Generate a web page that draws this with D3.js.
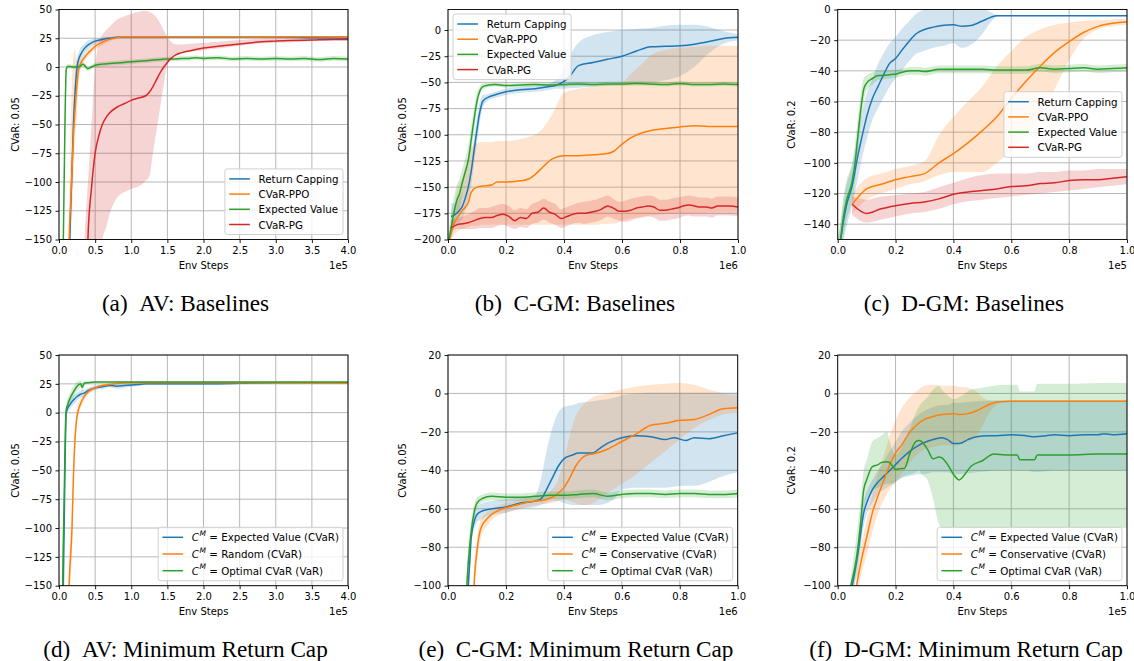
<!DOCTYPE html>
<html><head><meta charset="utf-8">
<script src="https://cdn.jsdelivr.net/npm/d3@7"></script>
<style>
body{margin:0;background:#fff;}
svg{display:block;}
</style></head><body>
<svg id="fig" width="1134" height="661"></svg>
<script>
// ---------- tick values ----------
const ticksX4 = [0,0.5,1,1.5,2,2.5,3,3.5,4];
const ticksX1 = [0,0.2,0.4,0.6,0.8,1];
const ticksYav = [-150,-125,-100,-75,-50,-25,0,25,50];
const ticksYcgm = [-200,-175,-150,-125,-100,-75,-50,-25,0];
const ticksYdgm = [-140,-120,-100,-80,-60,-40,-20,0];
const ticksY20 = [-100,-80,-60,-40,-20,0,20];

// ---------- legend labels ----------
const labelsBase = ['Return Capping','CVaR-PPO','Expected Value','CVaR-PG'];
const labelsAV = ['Expected Value (CVaR)','Random (CVaR)','Optimal CVaR (VaR)'];
const labelsGM = ['Expected Value (CVaR)','Conservative (CVaR)','Optimal CVaR (VaR)'];

// ---------- (a) AV baselines, x in 1e5 ----------
const aRC_x = [0.13,0.15,0.18,0.2,0.22,0.25,0.28,0.3,0.35,0.4,0.45,0.5,0.6,0.7,0.8,0.9,1.0,1.5,2.0,2.5,3.0,3.5,4.0];
const aRC_y = [-220,-150,-90,-50,-25,0,8,11,16,19,21,22.5,24,25,25.8,26,26,26,26,26,26,25.5,25];
const aRC_lo = [-240,-170,-110,-68,-40,-10,0,4,11,15,18,20,22.5,24,25.3,25.6,25.6,25.6,25.6,25.6,25.6,25,24.5];
const aRC_hi = [-200,-130,-70,-32,-10,8,14,17,20,23,24,25,25.5,26,26.3,26.4,26.4,26.4,26.4,26.4,26.4,26,25.5];
const aPPO_x = [0.12,0.14,0.16,0.18,0.2,0.22,0.25,0.27,0.3,0.35,0.4,0.45,0.5,0.6,0.7,0.8,0.9,1.0,2.0,3.0,4.0];
const aPPO_y = [-220,-150,-120,-90,-60,-40,-15,-3,3,8,12,15,18,21.5,24,25.5,26.3,26.3,26.3,26.3,26.3];
const aPPO_lo = [-240,-170,-160,-130,-100,-70,-40,-15,-2,5,9,12,15,19,22,24.5,25.9,25.9,25.9,25.9,25.9];
const aPPO_hi = [-200,-130,-60,-10,10,15,5,3,6,11,15,18,21,24,26,26.8,26.7,26.7,26.7,26.7,26.7];
const aEV_x = [0.0,0.04,0.06,0.08,0.1,0.12,0.15,0.2,0.25,0.3,0.33,0.36,0.4,0.45,0.5,0.6,0.7,0.8,0.9,1.0,1.1,1.2,1.3,1.4,1.5,1.6,1.7,1.8,1.9,2.0,2.2,2.4,2.6,2.8,3.0,3.2,3.4,3.6,3.8,4.0];
const aEV_y = [-400,-300,-150,-60,-2,0.5,0.5,0,0,1,2.5,1,-1.5,0,1.5,2.5,3,3.5,4,4.5,5,5.5,6,6.5,7,7,7.5,7.5,8,7.5,8,7,7.5,7,7.5,7,7.5,6.5,7.5,7];
const aEV_lo = [-420,-320,-170,-75,-6,-1.5,-1.5,-2,-2,-1,0.5,-1,-3.5,-2,-0.5,0.5,1,1.5,2,2.5,3,3.5,4,4.5,5,5,5.5,5.5,6,5.5,6,5,5.5,5,5.5,5,5.5,4.5,5.5,5];
const aEV_hi = [-380,-280,-130,-45,2,2.5,2.5,2,2,3,4.5,3,0.5,2,3.5,4.5,5,5.5,6,6.5,7,7.5,8,8.5,9,9,9.5,9.5,10,9.5,10,9,9.5,9,9.5,9,9.5,8.5,9.5,9];
const aPG_x = [0.35,0.4,0.45,0.5,0.55,0.6,0.65,0.7,0.8,0.9,1.0,1.1,1.2,1.25,1.3,1.35,1.4,1.45,1.5,1.55,1.6,1.7,1.8,2.0,2.2,2.5,2.8,3.0,3.2,3.5,3.8,4.0];
const aPG_y = [-300,-150,-105,-75,-60,-50,-44,-40,-35,-32,-29,-27,-25,-22,-17,-11,-5,0,4,7.5,10,12.5,14,16.5,18,20,22,22.5,23,23.5,24,24];
const aPG_lo = [-400,-400,-300,-250,-200,-150,-140,-128,-114,-109,-106,-104,-99,-95,-75,-55,-35,-15,3,6,9,12,13,14.5,16,18.5,20.5,21,21.5,22.5,23,23];
const aPG_hi = [-150,-100,-50,0,20,28,32,35,41,44,46,48,49,48,46,43,38,32,26,22,20,19.5,20,21,22,23.5,24.5,25,25,25,25,25];

// ---------- (b) C-GM baselines, x in 1e6 ----------
const bRC_x = [0.01,0.02,0.03,0.04,0.05,0.06,0.07,0.08,0.09,0.1,0.11,0.12,0.14,0.16,0.2,0.25,0.3,0.35,0.37,0.4,0.42,0.45,0.5,0.55,0.6,0.65,0.7,0.75,0.8,0.85,0.9,0.95,1.0];
const bRC_y = [-178,-177,-175,-172,-168,-160,-150,-135,-115,-95,-78,-68,-64,-62,-59,-57,-56,-54,-53,-49,-44,-34,-31,-28,-25,-20,-16,-15.5,-15,-13.5,-11,-8,-7];
const bRC_lo = [-190,-188,-185,-183,-180,-172,-162,-148,-128,-108,-88,-74,-67,-65,-62,-60,-59,-57,-56,-56,-55.5,-55,-54,-53,-52,-51,-50,-48,-44,-35,-22,-13,-10];
const bRC_hi = [-165,-166,-165,-160,-155,-148,-138,-122,-102,-82,-68,-62,-61,-59,-56,-54,-53,-51,-48,-38,-25,-12,-5,-2,0,1,2,4,5,5,3,-1,-4];
const bPPO_x = [0.0,0.01,0.02,0.03,0.05,0.07,0.08,0.1,0.12,0.15,0.17,0.2,0.25,0.28,0.3,0.33,0.36,0.4,0.45,0.5,0.55,0.57,0.6,0.63,0.67,0.7,0.75,0.8,0.85,0.9,0.95,1.0];
const bPPO_y = [-205,-195,-185,-180,-172,-165,-155,-150,-149,-148,-145,-145,-144,-142,-138,-130,-123,-120,-120,-119,-118,-116,-109,-103,-98,-96,-94,-92.5,-91.5,-92,-92,-92];
const bPPO_lo = [-210,-200,-196,-193,-190,-188,-187,-187,-186,-186,-186,-186,-186,-186,-186,-186,-186,-186,-186,-186,-185,-185,-182,-180,-178,-177,-176,-175,-175,-174,-174,-173];
const bPPO_hi = [-200,-185,-170,-155,-140,-122,-112,-108,-107,-107,-106,-106,-104,-102,-100,-93,-80,-60,-56,-54,-52,-51,-50,-42,-32,-24,-19,-17,-16,-15,-15,-15];
const bEV_x = [0.0,0.01,0.02,0.03,0.04,0.05,0.06,0.07,0.08,0.09,0.1,0.11,0.12,0.14,0.16,0.18,0.2,0.25,0.3,0.35,0.4,0.45,0.5,0.55,0.6,0.65,0.7,0.75,0.8,0.85,0.9,0.95,1.0];
const bEV_y = [-205,-190,-175,-163,-156,-145,-135,-124,-105,-85,-68,-58,-54,-52.5,-52,-52.5,-53,-52.5,-52,-52.5,-52,-51.5,-52,-51.5,-51.5,-51,-51.5,-52,-51,-52,-52,-51.5,-52];
const bEV_lo = [-215,-202,-190,-178,-170,-158,-148,-138,-118,-96,-76,-62,-57,-54.5,-54,-54.5,-55,-54.5,-54,-54.5,-54,-53.5,-54,-53.5,-53.5,-53,-53.5,-54,-53,-54,-54,-53.5,-54];
const bEV_hi = [-195,-178,-160,-148,-142,-132,-122,-110,-92,-74,-60,-54,-51,-50.5,-50,-50.5,-51,-50.5,-50,-50.5,-50,-49.5,-50,-49.5,-49.5,-49,-49.5,-50,-49,-50,-50,-49.5,-50];
const bPG_x = [0.01,0.03,0.05,0.07,0.09,0.11,0.13,0.15,0.17,0.19,0.21,0.23,0.25,0.27,0.29,0.31,0.33,0.35,0.37,0.39,0.41,0.43,0.45,0.47,0.49,0.51,0.53,0.55,0.57,0.59,0.61,0.63,0.65,0.67,0.69,0.71,0.73,0.75,0.77,0.79,0.81,0.83,0.85,0.87,0.89,0.91,0.93,0.95,0.97,1.0];
const bPG_y = [-189,-186,-185,-184,-182,-180,-179,-179,-177,-176,-178,-182,-179,-180,-175,-174,-170,-174,-176,-180,-178,-176,-175,-175,-174,-173,-171,-168,-170,-173,-173,-172,-170,-169,-168,-169,-172,-172,-171,-170,-168,-167,-168,-169,-169,-170,-168,-168,-168,-169];
const bPG_lo = [-193,-190,-190,-190,-190,-189,-189,-189,-187,-186,-188,-190,-188,-189,-185,-184,-181,-184,-186,-189,-187,-185,-184,-185,-184,-183,-181,-178,-180,-182,-183,-182,-180,-179,-178,-179,-182,-182,-181,-180,-178,-177,-178,-178,-178,-179,-177,-177,-177,-178];
const bPG_hi = [-182,-180,-178,-176,-173,-170,-170,-169,-167,-166,-168,-172,-170,-171,-166,-164,-161,-164,-166,-171,-169,-167,-165,-164,-163,-162,-160,-158,-161,-164,-163,-161,-160,-159,-158,-159,-162,-162,-161,-160,-159,-158,-159,-160,-160,-161,-159,-159,-159,-160];

// ---------- (c) D-GM baselines, x in 1e5 ----------
const cRC_x = [0.0,0.01,0.02,0.03,0.05,0.07,0.09,0.1,0.12,0.14,0.16,0.18,0.2,0.22,0.25,0.27,0.3,0.33,0.36,0.4,0.43,0.46,0.5,0.53,0.55,0.6,0.7,0.8,0.9,1.0];
const cRC_y = [-160,-150,-138,-128,-115,-95,-78,-70,-58,-50,-42,-35,-32,-27,-20,-16,-13,-11.5,-10.5,-10,-11,-10.5,-7.5,-5,-4,-4,-4,-4,-4,-4];
const cRC_lo = [-170,-160,-150,-142,-128,-110,-92,-85,-72,-64,-57,-50,-45,-40,-33,-29,-27,-25,-24,-22,-25,-23,-16,-8,-4.5,-4.3,-4.3,-4.3,-4.3,-4.3];
const cRC_hi = [-150,-140,-125,-115,-102,-80,-62,-55,-45,-35,-28,-22,-18,-13,-7,-3,0,2,3,3,3,3,1,-2,-3.5,-3.7,-3.7,-3.7,-3.7,-3.7];
const cPPO_x = [0.05,0.1,0.15,0.2,0.25,0.3,0.35,0.4,0.45,0.5,0.55,0.6,0.65,0.7,0.75,0.8,0.85,0.9,0.95,1.0];
const cPPO_y = [-127,-117,-114,-111,-109,-107,-100,-94,-87,-79,-70,-58,-47,-37,-28,-21,-15,-11,-9,-8];
const cPPO_lo = [-133,-124,-120,-117,-114,-112,-108,-106,-106,-106,-100,-92,-82,-70,-52,-33,-19,-13,-11,-10];
const cPPO_hi = [-120,-110,-107,-104,-102,-99,-82,-70,-60,-50,-37,-27,-18,-13,-10,-8.5,-7.5,-7,-6.5,-6];
const cEV_x = [0.0,0.01,0.02,0.03,0.05,0.06,0.07,0.08,0.09,0.1,0.12,0.14,0.16,0.2,0.25,0.28,0.3,0.35,0.4,0.45,0.5,0.55,0.6,0.65,0.7,0.75,0.8,0.85,0.9,0.95,1.0];
const cEV_y = [-165,-150,-135,-125,-112,-100,-82,-65,-52,-48,-45,-43,-43,-42,-40,-40,-40.5,-39,-39,-39,-39,-39.5,-39.5,-39.5,-38,-39,-38.5,-38,-39,-38.5,-38];
const cEV_lo = [-175,-162,-148,-138,-124,-112,-94,-75,-60,-53,-49,-46,-45.5,-44.5,-42.5,-42.5,-43,-41.5,-41.5,-41.5,-41.5,-42,-42,-42,-40.5,-41.5,-41,-40.5,-41.5,-41,-40.5];
const cEV_hi = [-150,-138,-122,-112,-100,-88,-70,-55,-45,-43,-41,-40,-40,-39.5,-37.5,-37.5,-38,-36.5,-36.5,-36.5,-36.5,-37,-37,-37,-35.5,-36.5,-36,-35.5,-36.5,-36,-35.5];
const cPG_x = [0.05,0.1,0.15,0.2,0.25,0.3,0.35,0.4,0.45,0.5,0.55,0.6,0.65,0.7,0.75,0.8,0.85,0.9,0.95,1.0];
const cPG_y = [-127,-133,-130,-128,-126.5,-125.5,-123.5,-120.5,-119,-118,-117,-115.5,-115,-113.5,-113,-111.5,-111,-111,-110,-109];
const cPG_lo = [-134,-139,-137,-135,-133,-132,-130,-127,-125,-124,-123,-122,-121,-120,-119,-118,-117,-116,-115,-114];
const cPG_hi = [-122,-124,-122,-121,-120,-119,-116,-113,-110,-108,-107,-107,-107,-106,-106,-105,-105,-104,-104,-104];

// ---------- (d) AV minimum return cap, x in 1e5 ----------
const dEV_x = [0.04,0.06,0.08,0.1,0.12,0.15,0.2,0.25,0.3,0.35,0.4,0.5,0.6,0.7,0.8,0.9,1.0,1.1,1.2,1.5,2.0,2.5,3.0,3.5,4.0];
const dEV_y = [-300,-150,-60,0,4,7,11,14,16,17,19,21.5,22.5,23.5,23,23.5,24,24.5,25,25,25,25.5,26,26,26];
const dEV_lo = [-320,-170,-70,-4,0,3,7,10.5,13,14,16.5,19.5,20.5,22,21,21.5,22.5,23.2,24,24,24,24.7,25.5,25.5,25.5];
const dEV_hi = [-280,-130,-50,4,8,11,15,17.5,19,20,21.5,23.5,24.5,25,25,25.5,25.5,25.8,26,26,26,26.3,26.5,26.5,26.5];
const dR_x = [0.12,0.14,0.16,0.18,0.2,0.22,0.25,0.3,0.35,0.4,0.5,0.6,0.7,0.8,0.9,1.0,1.5,2.0,3.0,4.0];
const dR_y = [-300,-150,-125,-100,-55,-25,-3,8,14,18,21.5,23.5,24.5,25.3,25.8,26,26,26,26,25.5];
const dR_lo = [-320,-170,-145,-120,-70,-35,-9,4,11,15.5,20,22.5,23.5,24.6,25.3,25.5,25.5,25.5,25.5,25];
const dR_hi = [-280,-130,-105,-80,-40,-15,3,12,17,20.5,23,24.5,25.5,26,26.3,26.5,26.5,26.5,26.5,26];
const dO_x = [0.03,0.05,0.07,0.09,0.1,0.12,0.15,0.2,0.25,0.3,0.32,0.35,0.4,0.5,0.6,0.8,1.0,2.0,3.0,4.0];
const dO_y = [-400,-160,-80,-10,2,7,12,18,23,25,22,25.5,26,26.5,26.5,26.5,26.5,26.5,26.5,26.5];
const dO_lo = [-420,-180,-95,-18,-3,2,7,13,19,22,18,23.5,25,26,26,26,26,26,26,26];
const dO_hi = [-380,-140,-65,-2,7,12,17,23,27,28,26,27.5,27,27,27,27,27,27,27,27];

// ---------- (e) C-GM minimum return cap, x in 1e6 ----------
const eEV_x = [0.06,0.07,0.075,0.08,0.09,0.1,0.12,0.15,0.2,0.25,0.3,0.32,0.34,0.36,0.38,0.4,0.43,0.45,0.5,0.52,0.55,0.58,0.6,0.65,0.7,0.75,0.78,0.82,0.85,0.9,0.95,1.0];
const eEV_y = [-120,-100,-88,-75,-67,-63,-61,-60,-59,-57,-56,-55,-50,-44,-38,-34,-32,-31,-31,-29,-26,-24,-23,-22,-22.5,-24,-23,-24.5,-23,-23.5,-22,-20.5];
const eEV_lo = [-130,-106,-94,-80,-71,-67,-65,-63,-62,-60,-59,-58,-57,-56,-56,-57,-58,-58,-58,-58,-57,-54,-50,-49,-49,-49,-48.5,-48,-48,-46,-43,-41];
const eEV_hi = [-112,-94,-82,-70,-63,-59,-57,-56,-55,-54,-53,-45,-30,-18,-10,-7,-6,-5,-4,-3.5,-3,-2,-1,0,0.5,0.5,0.5,0.5,0.5,0.5,0.5,0.5];
const eC_x = [0.085,0.09,0.1,0.11,0.12,0.13,0.15,0.18,0.2,0.25,0.3,0.33,0.36,0.38,0.4,0.42,0.44,0.46,0.48,0.5,0.55,0.6,0.65,0.7,0.75,0.8,0.85,0.9,0.95,1.0];
const eC_y = [-120,-100,-82,-72,-68,-66,-63,-60.5,-59.5,-57.5,-56,-55.5,-54,-52,-49,-44,-38,-34,-32,-31.5,-29,-25,-21,-16.5,-15.5,-14,-13.5,-11,-8,-7.5];
const eC_lo = [-130,-108,-88,-78,-72,-70,-66,-63,-62,-60,-58,-57.5,-57,-56,-55,-56,-57,-58,-58,-57,-52,-47,-42,-36,-30,-24,-18,-14,-11,-10];
const eC_hi = [-110,-92,-76,-67,-64,-62.5,-60,-58,-57,-55,-54,-53,-50,-45,-35,-22,-12,-7,-4,-2,0,2,3.5,4.5,5,5.5,4.5,2,0,-1];
const eO_x = [0.06,0.065,0.07,0.08,0.09,0.1,0.12,0.15,0.2,0.25,0.3,0.35,0.4,0.45,0.5,0.55,0.6,0.65,0.7,0.75,0.8,0.85,0.9,0.95,1.0];
const eO_y = [-120,-100,-88,-72,-62,-57,-54.5,-53.5,-54,-54,-53.5,-53,-53,-52.5,-52,-53.5,-52.5,-52,-52,-52.5,-52,-52,-52.5,-52.5,-52];
const eO_lo = [-128,-106,-96,-78,-66,-60,-56.5,-55.5,-56,-56,-55.5,-55,-55,-54.5,-54,-55.5,-54.5,-54,-54,-54.5,-54,-54,-54.5,-54.5,-54];
const eO_hi = [-112,-94,-80,-66,-58,-54,-52.5,-51.5,-52,-52,-51.5,-51,-51,-50.5,-50,-51.5,-50.5,-50,-50,-50.5,-50,-50,-50.5,-50.5,-50];

// ---------- (f) D-GM minimum return cap, x in 1e5 ----------
const fEV_x = [0.05,0.06,0.07,0.08,0.09,0.1,0.12,0.14,0.16,0.18,0.2,0.22,0.25,0.28,0.3,0.33,0.36,0.38,0.4,0.42,0.45,0.48,0.52,0.55,0.6,0.65,0.68,0.72,0.75,0.8,0.85,0.9,0.92,0.95,1.0];
const fEV_y = [-100,-92,-83,-72,-62,-57,-50,-46,-43,-40,-37,-34,-30,-27,-25.5,-24,-23,-24,-26,-26,-24,-22.5,-22,-22,-21.5,-22,-22.5,-22,-21.5,-22,-21.5,-21.5,-21,-21.5,-21];
const fEV_lo = [-104,-97,-88,-79,-69,-63,-57,-52,-50,-48,-46,-44,-43,-42,-42,-41,-41,-41,-42,-42,-41.5,-41,-40.5,-40,-40,-40,-41,-40.5,-40,-40,-40,-40,-40,-40,-40];
const fEV_hi = [-95,-87,-77,-65,-56,-51,-45,-40,-35,-30,-25,-20,-15,-11,-9,-7,-6,-6,-5,-5,-4.5,-4,-3.8,-3.6,-3.5,-3.5,-3.5,-3.5,-3.5,-3.5,-3.5,-3.5,-3.5,-3.5,-3.5];
const fC_x = [0.065,0.08,0.1,0.12,0.14,0.16,0.18,0.2,0.22,0.25,0.28,0.3,0.33,0.36,0.4,0.42,0.45,0.48,0.5,0.52,0.55,0.6,0.7,0.8,0.9,1.0];
const fC_y = [-100,-88,-75,-62,-53,-45,-37,-31,-27,-20,-15.5,-13.5,-12,-11,-10.5,-11,-10.5,-9,-7.5,-6,-4.5,-4,-4,-4,-4,-4];
const fC_lo = [-105,-95,-84,-72,-62,-55,-50,-46,-42,-36,-31,-29,-28,-27,-27,-26.5,-25,-22,-17,-11,-6,-4.2,-4.2,-4.2,-4.2,-4.2];
const fC_hi = [-95,-80,-66,-52,-41,-32,-22,-14,-8,-2,2,4,4.5,4,4,3.5,3,1,-2,-3.5,-4,-3.8,-3.8,-3.8,-3.8,-3.8];
const fO_x = [0.045,0.06,0.07,0.08,0.09,0.1,0.12,0.14,0.15,0.17,0.18,0.19,0.2,0.22,0.23,0.25,0.27,0.28,0.29,0.31,0.33,0.35,0.36,0.38,0.4,0.42,0.44,0.46,0.5,0.54,0.58,0.62,0.63,0.68,0.69,0.75,0.8,0.9,1.0];
const fO_y = [-100,-90,-80,-66,-50,-45,-38,-37,-36,-35.5,-36,-38,-39.5,-39,-39,-31,-25,-24.5,-25,-29,-34,-33,-33.5,-37,-42,-45,-42,-38,-35,-31.5,-32,-32,-34.5,-34.5,-32,-32,-32,-31.5,-31.5];
const fO_lo = [-105,-98,-92,-78,-60,-55,-50,-49,-48,-47,-47,-47,-46,-44,-43,-42,-41,-40,-42,-45,-55,-68,-70,-70,-70,-70,-70,-70,-70,-70,-70,-70,-70,-70,-70,-70,-70,-70,-70];
const fO_hi = [-95,-80,-68,-55,-40,-35,-25,-23,-22,-20,-25,-30,-32,-28,-25,-18,-10,-7,-5,-2,2,4,2,-1,-3,-2,0,2,3,4,4.5,4.5,1,1,5,5,5,5.5,5.5];

// ---------- styling ----------
const COL = {blue:'#1f77b4', orange:'#ff7f0e', green:'#2ca02c', red:'#d62728'};
const S = (label,color,x,y,lo,hi,math)=>({label,color,x,y,lo,hi,math:!!math});

const panels = [
 {box:[59,9.5,348,239.5], xDomain:[0,4], xTicks:ticksX4, yDomain:[-150,50], yTicks:ticksYav,
  ylabel:'CVaR: 0.05', ylx:15, exp:'1e5', caption:'(a)\u2002AV: Baselines', capX:185.5, capY:311, legend:'lower right',
  series:[S(labelsBase[0],COL.blue,aRC_x,aRC_y,aRC_lo,aRC_hi),S(labelsBase[1],COL.orange,aPPO_x,aPPO_y,aPPO_lo,aPPO_hi),
          S(labelsBase[2],COL.green,aEV_x,aEV_y,aEV_lo,aEV_hi),S(labelsBase[3],COL.red,aPG_x,aPG_y,aPG_lo,aPG_hi)]},
 {box:[448,9.5,738,239.5], xDomain:[0,1], xTicks:ticksX1, yDomain:[-200,19.6], yTicks:ticksYcgm,
  ylabel:'CVaR: 0.05', ylx:402.7, exp:'1e6', caption:'(b)\u2002C-GM: Baselines', capX:575, capY:311, legend:'upper left',
  series:[S(labelsBase[0],COL.blue,bRC_x,bRC_y,bRC_lo,bRC_hi),S(labelsBase[1],COL.orange,bPPO_x,bPPO_y,bPPO_lo,bPPO_hi),
          S(labelsBase[2],COL.green,bEV_x,bEV_y,bEV_lo,bEV_hi),S(labelsBase[3],COL.red,bPG_x,bPG_y,bPG_lo,bPG_hi)]},
 {box:[837.7,9.5,1127,239.5], xDomain:[0,1], xTicks:ticksX1, yDomain:[-150,0], yTicks:ticksYdgm,
  ylabel:'CVaR: 0.2', ylx:791.7, exp:'1e5', caption:'(c)\u2002D-GM: Baselines', capX:964, capY:311, legend:'center right',
  series:[S(labelsBase[0],COL.blue,cRC_x,cRC_y,cRC_lo,cRC_hi),S(labelsBase[1],COL.orange,cPPO_x,cPPO_y,cPPO_lo,cPPO_hi),
          S(labelsBase[2],COL.green,cEV_x,cEV_y,cEV_lo,cEV_hi),S(labelsBase[3],COL.red,cPG_x,cPG_y,cPG_lo,cPG_hi)]},
 {box:[59,355,348,585.7], xDomain:[0,4], xTicks:ticksX4, yDomain:[-150,50], yTicks:ticksYav,
  ylabel:'CVaR: 0.05', ylx:15, exp:'1e5', caption:'(d)\u2002AV: Minimum Return Cap', capX:185.5, capY:657, legend:'lower right',
  series:[S(labelsAV[0],COL.blue,dEV_x,dEV_y,dEV_lo,dEV_hi,1),S(labelsAV[1],COL.orange,dR_x,dR_y,dR_lo,dR_hi,1),
          S(labelsAV[2],COL.green,dO_x,dO_y,dO_lo,dO_hi,1)]},
 {box:[448,355,737.7,585.7], xDomain:[0,1], xTicks:ticksX1, yDomain:[-100,20], yTicks:ticksY20,
  ylabel:'CVaR: 0.05', ylx:402.7, exp:'1e6', caption:'(e)\u2002C-GM: Minimum Return Cap', capX:576, capY:657, legend:'lower right',
  series:[S(labelsGM[0],COL.blue,eEV_x,eEV_y,eEV_lo,eEV_hi,1),S(labelsGM[1],COL.orange,eC_x,eC_y,eC_lo,eC_hi,1),
          S(labelsGM[2],COL.green,eO_x,eO_y,eO_lo,eO_hi,1)]},
 {box:[837.7,355,1127,585.7], xDomain:[0,1], xTicks:ticksX1, yDomain:[-100,20], yTicks:ticksY20,
  ylabel:'CVaR: 0.2', ylx:791.7, exp:'1e5', caption:'(f)\u2002D-GM: Minimum Return Cap', capX:966, capY:657, legend:'lower right',
  series:[S(labelsGM[0],COL.blue,fEV_x,fEV_y,fEV_lo,fEV_hi,1),S(labelsGM[1],COL.orange,fC_x,fC_y,fC_lo,fC_hi,1),
          S(labelsGM[2],COL.green,fO_x,fO_y,fO_lo,fO_hi,1)]}
];

const svg = d3.select('#fig');
const FONT = '"DejaVu Sans", sans-serif';
const fmtY = d => d < 0 ? '\u2212' + Math.abs(d) : String(d);

panels.forEach((p, i) => {
  const [L, T, R, B] = p.box;
  const x = d3.scaleLinear().domain(p.xDomain).range([L, R]);
  const y = d3.scaleLinear().domain(p.yDomain).range([B, T]);
  const g = svg.append('g');

  // grid
  g.append('g').selectAll('line').data(p.xTicks).join('line')
    .attr('x1', d => x(d)).attr('x2', d => x(d)).attr('y1', T).attr('y2', B)
    .attr('stroke', '#b0b0b0').attr('stroke-width', 0.9);
  g.append('g').selectAll('line').data(p.yTicks).join('line')
    .attr('y1', d => y(d)).attr('y2', d => y(d)).attr('x1', L).attr('x2', R)
    .attr('stroke', '#b0b0b0').attr('stroke-width', 0.9);

  // clip
  const cid = 'clip' + i;
  svg.append('clipPath').attr('id', cid).append('rect')
    .attr('x', L).attr('y', T).attr('width', R - L).attr('height', B - T);
  const plot = g.append('g').attr('clip-path', `url(#${cid})`);

  const area = d3.area().x(d => x(d.x)).y0(d => y(d.lo)).y1(d => y(d.hi)).curve(d3.curveMonotoneX);
  const line = d3.line().x(d => x(d.x)).y(d => y(d.y)).curve(d3.curveMonotoneX);
  p.series.forEach(s => {
    const pts = s.x.map((xv, k) => ({x: xv, y: s.y[k], lo: s.lo[k], hi: s.hi[k]}));
    plot.append('path').datum(pts).attr('d', area).attr('fill', s.color).attr('fill-opacity', 0.2);
  });
  p.series.forEach(s => {
    const pts = s.x.map((xv, k) => ({x: xv, y: s.y[k]}));
    plot.append('path').datum(pts).attr('d', line).attr('fill', 'none')
      .attr('stroke', s.color).attr('stroke-width', 1.5).attr('stroke-linejoin', 'round');
  });

  // axes
  const xa = g.append('g').attr('transform', `translate(0,${B})`)
    .call(d3.axisBottom(x).tickValues(p.xTicks).tickFormat(d3.format('.1f')).tickSize(3.5).tickPadding(3.5));
  const ya = g.append('g').attr('transform', `translate(${L},0)`)
    .call(d3.axisLeft(y).tickValues(p.yTicks).tickFormat(fmtY).tickSize(3.5).tickPadding(3.5));
  [xa, ya].forEach(a => {
    a.attr('font-family', FONT).attr('font-size', 10);
    a.select('.domain').remove();
    a.selectAll('.tick line').attr('stroke', '#000').attr('stroke-width', 0.9);
    a.selectAll('.tick text').attr('fill', '#000');
  });
  g.append('rect').attr('x', L).attr('y', T).attr('width', R - L).attr('height', B - T)
    .attr('fill', 'none').attr('stroke', '#000').attr('stroke-width', 0.9);

  // labels
  g.append('text').attr('x', (L + R) / 2).attr('y', B + 29.5).attr('text-anchor', 'middle')
    .attr('font-family', FONT).attr('font-size', 10).text('Env Steps');
  g.append('text').attr('x', R).attr('y', B + 29.5).attr('text-anchor', 'end')
    .attr('font-family', FONT).attr('font-size', 10).text(p.exp);
  g.append('text').attr('transform', `translate(${p.ylx},${(T + B) / 2}) rotate(-90)`)
    .attr('text-anchor', 'middle').attr('dominant-baseline', 'central')
    .attr('font-family', FONT).attr('font-size', 10).text(p.ylabel);
  g.append('text').attr('x', p.capX).attr('y', p.capY).attr('text-anchor', 'middle')
    .attr('font-family', '"Liberation Serif", serif').attr('font-size', 23.2).text(p.caption);

  // legend
  const math = p.series[0].math;
  const rowH = math ? 16.7 : 15.2;
  const lg = g.append('g');
  const box = lg.append('rect');
  const texts = [];
  p.series.forEach((s, k) => {
    const t = lg.append('text').attr('font-family', FONT).attr('font-size', 10.3)
      .attr('dominant-baseline', 'central');
    if (math) {
      t.append('tspan').attr('font-style', 'italic').text('C');
      t.append('tspan').attr('font-size', 7.5).attr('dy', -4.5).attr('dx', 0.5).attr('font-style', 'italic').text('M');
      t.append('tspan').attr('dy', 4.5).text('\u00a0=\u00a0' + s.label);
    } else {
      t.text(s.label);
    }
    texts.push(t);
  });
  const tw = d3.max(texts, t => t.node().getComputedTextLength());
  const w = 4.3 + 20.7 + 8.7 + tw + 4.5;
  const h = 20 + (p.series.length - 1) * rowH;
  let bx, by;
  if (p.legend === 'lower right') { bx = R - 5 - w; by = B - 5 - h; }
  else if (p.legend === 'upper left') { bx = L + 5; by = T + 4.5; }
  else { bx = R - 5 - w; by = (T + B) / 2 - h / 2; }
  box.attr('x', bx).attr('y', by).attr('width', w).attr('height', h).attr('rx', 2.5)
    .attr('fill', '#fff').attr('fill-opacity', 0.8).attr('stroke', '#cccccc').attr('stroke-width', 0.9);
  p.series.forEach((s, k) => {
    const cy = by + 10 + k * rowH;
    lg.append('line').attr('x1', bx + 4.3).attr('x2', bx + 25).attr('y1', cy).attr('y2', cy)
      .attr('stroke', s.color).attr('stroke-width', 1.5);
    texts[k].attr('x', bx + 33.7).attr('y', cy);
    texts[k].selectAll('tspan').filter((d, j) => j === 0).attr('x', bx + 33.7);
  });
});
</script>
</body></html>
